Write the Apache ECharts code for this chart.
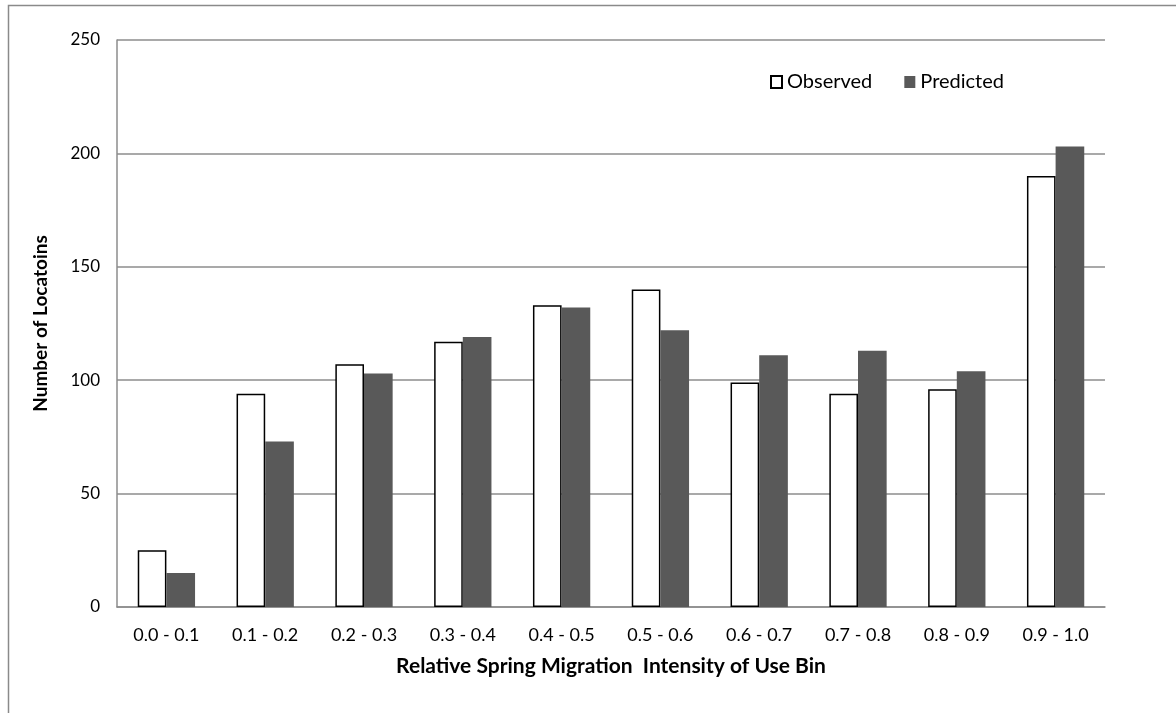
<!DOCTYPE html>
<html>
<head>
<meta charset="utf-8">
<script src="https://cdn.jsdelivr.net/npm/echarts@6/dist/echarts.min.js"></script>
<style>html,body{margin:0;padding:0;background:#fff;}#c{width:1176px;height:713px;}</style>
</head>
<body>
<div id="c"></div>
<script>
const categories = ['0.0 - 0.1','0.1 - 0.2','0.2 - 0.3','0.3 - 0.4','0.4 - 0.5','0.5 - 0.6','0.6 - 0.7','0.7 - 0.8','0.8 - 0.9','0.9 - 1.0'];
const observed = [25, 94, 107, 117, 133, 140, 99, 94, 96, 190];
const predicted = [15, 73, 103, 119, 132, 122, 111, 113, 104, 203];
const yTicks = [0, 50, 100, 150, 200, 250];

const FONT = 'Lato, "Open Sans", sans-serif';
const chart = echarts.init(document.getElementById('c'), null, {renderer: 'canvas'});
chart.setOption({
  animation: false,
  backgroundColor: '#fff',
  textStyle: {fontFamily: FONT},
  graphic: [{
    type: 'rect', silent: true,
    shape: {x: 8.5, y: 5.5, width: 1300, height: 900},
    style: {fill: 'none', stroke: '#8a8a8a', lineWidth: 1.5}
  }],
  grid: {left: 117, right: 71, top: 40, bottom: 106, containLabel: false},
  legend: {
    left: 765, top: 67,
    icon: 'rect',
    itemWidth: 11, itemHeight: 12, itemGap: 32,
    textStyle: {fontFamily: FONT, fontSize: 20, color: '#000', padding: [0,0,0,0]},
    data: [
      {name: 'Observed', itemStyle: {color: '#fff', borderColor: '#000', borderWidth: 2}},
      {name: 'Predicted', itemStyle: {color: '#595959', borderWidth: 0}}
    ]
  },
  xAxis: {
    type: 'category', data: categories,
    name: 'Relative Spring Migration  Intensity of Use Bin',
    nameLocation: 'middle', nameGap: 49,
    nameTextStyle: {fontFamily: FONT, fontSize: 21, fontWeight: 'bold', color: '#000'},
    axisLine: {lineStyle: {color: '#8c8c8c', width: 1.5}},
    axisTick: {show: false},
    axisLabel: {fontFamily: FONT, fontSize: 18, color: '#000', margin: 19}
  },
  yAxis: {
    type: 'value', min: 0, max: 250, interval: 50,
    name: 'Number of Locatoins',
    nameLocation: 'middle', nameGap: 67,
    nameTextStyle: {fontFamily: FONT, fontSize: 19, fontWeight: 'bold', color: '#000'},
    axisLine: {show: true, lineStyle: {color: '#8c8c8c', width: 1.5}},
    axisTick: {show: false},
    axisLabel: {fontFamily: FONT, fontSize: 17, color: '#000', margin: 17,
      formatter: v => yTicks.includes(v) ? String(v) : ''},
    splitLine: {lineStyle: {color: '#8c8c8c', width: 1.5}}
  },
  series: [
    {name: 'Observed', type: 'bar', data: observed, barGap: '0%', barCategoryGap: '42%',
     itemStyle: {color: '#fff', borderColor: '#000', borderWidth: 1.5}},
    {name: 'Predicted', type: 'bar', data: predicted, barGap: '0%', barCategoryGap: '42%',
     itemStyle: {color: '#595959'}}
  ]
});
</script>
</body>
</html>
